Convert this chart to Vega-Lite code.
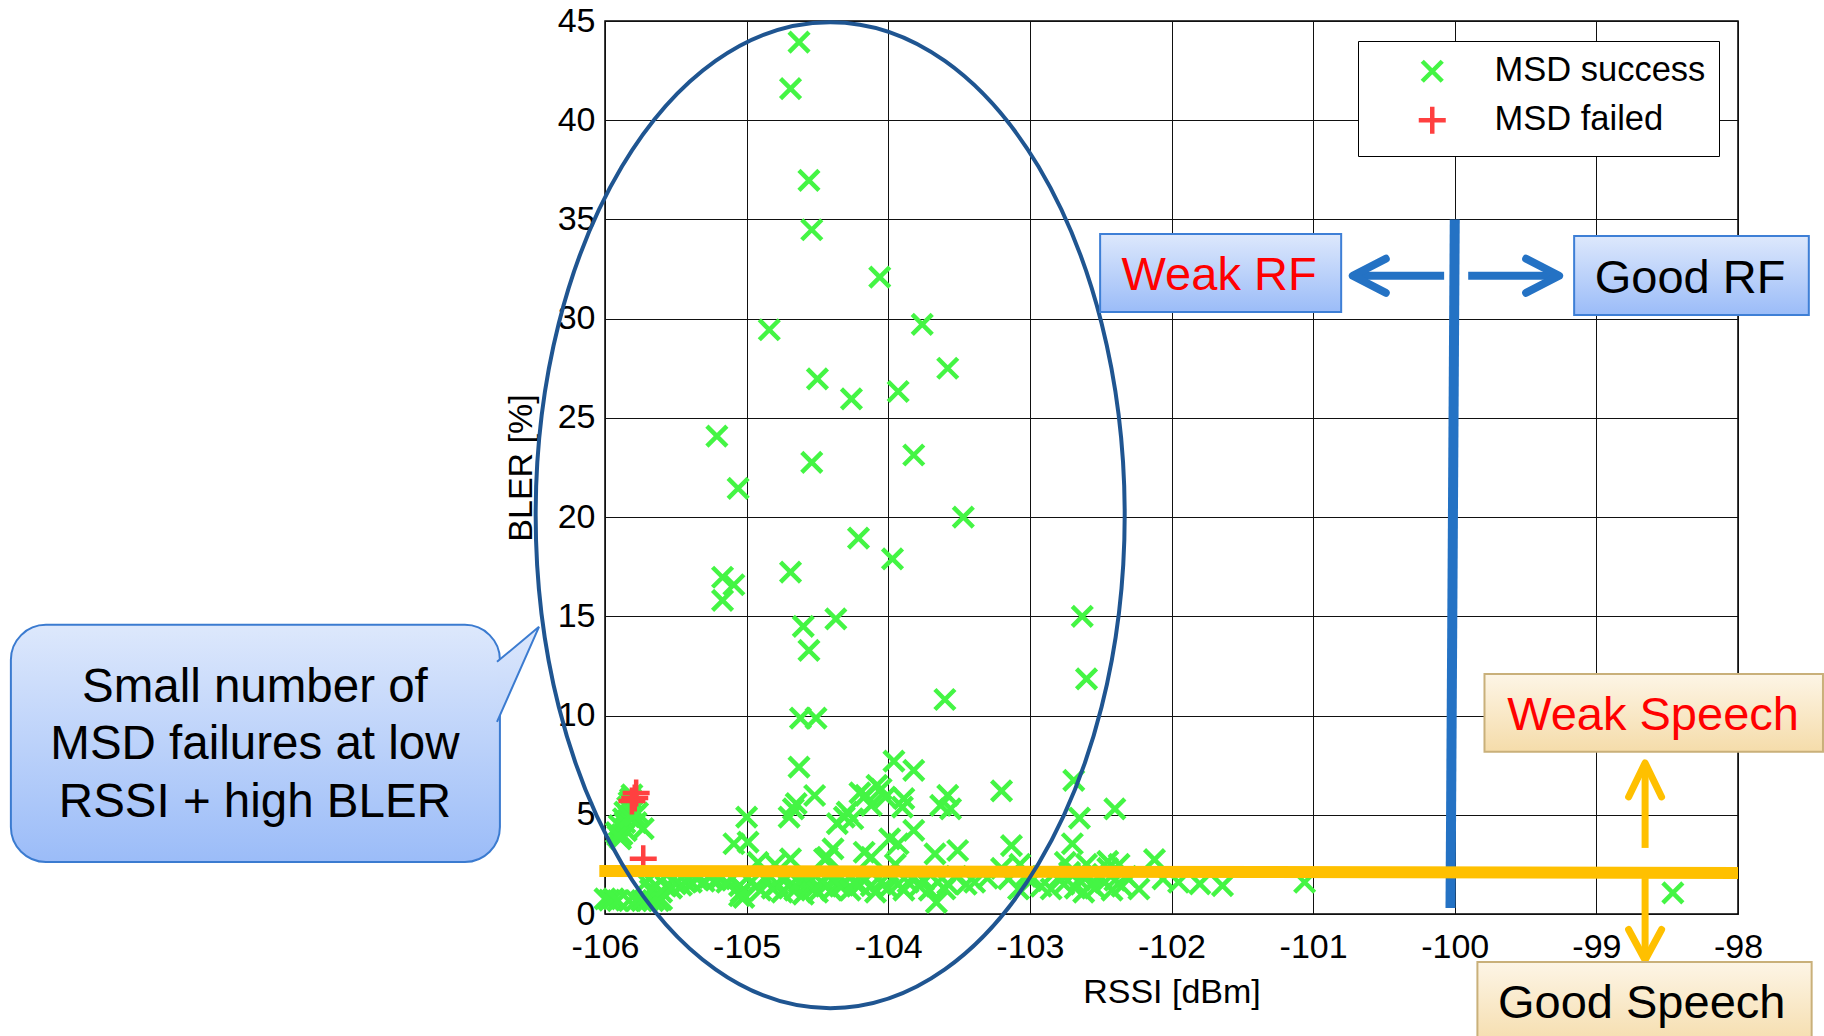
{
"$schema": "https://vega.github.io/schema/vega-lite/v6.json",
"width": 1133, "height": 893,
"autosize": {"type": "none"},
"padding": {"left": 605, "top": 21, "right": 86, "bottom": 122},
"background": "white",
"config": {
  "font": "Liberation Sans",
  "view": {"stroke": "#000", "strokeWidth": 1.5},
  "axis": {"grid": true, "gridColor": "#111", "gridOpacity": 1, "gridWidth": 1, "ticks": false, "domain": false,
    "labelFont": "Liberation Sans", "labelFontSize": 34, "labelColor": "#000", "labelFlush": false, "labelOverlap": false,
    "titleFont": "Liberation Sans", "titleFontSize": 34, "titleFontWeight": "normal", "titleColor": "#000"}
},
"datasets": {
  "pts": [
    {"rssi":-104.63,"bler":43.94,"status":"MSD success"},{"rssi":-104.69,"bler":41.59,"status":"MSD success"},
    {"rssi":-104.56,"bler":36.97,"status":"MSD success"},{"rssi":-104.54,"bler":34.48,"status":"MSD success"},
    {"rssi":-104.06,"bler":32.09,"status":"MSD success"},{"rssi":-104.84,"bler":29.44,"status":"MSD success"},
    {"rssi":-103.76,"bler":29.71,"status":"MSD success"},{"rssi":-103.58,"bler":27.5,"status":"MSD success"},
    {"rssi":-104.5,"bler":26.97,"status":"MSD success"},{"rssi":-104.26,"bler":25.96,"status":"MSD success"},
    {"rssi":-103.93,"bler":26.33,"status":"MSD success"},{"rssi":-105.21,"bler":24.08,"status":"MSD success"},
    {"rssi":-104.54,"bler":22.76,"status":"MSD success"},{"rssi":-103.82,"bler":23.13,"status":"MSD success"},
    {"rssi":-105.06,"bler":21.45,"status":"MSD success"},{"rssi":-103.47,"bler":20.0,"status":"MSD success"},
    {"rssi":-104.21,"bler":18.94,"status":"MSD success"},{"rssi":-103.97,"bler":17.9,"status":"MSD success"},
    {"rssi":-104.69,"bler":17.23,"status":"MSD success"},{"rssi":-105.17,"bler":16.97,"status":"MSD success"},
    {"rssi":-105.09,"bler":16.59,"status":"MSD success"},{"rssi":-105.17,"bler":15.8,"status":"MSD success"},
    {"rssi":-104.37,"bler":14.87,"status":"MSD success"},{"rssi":-104.6,"bler":14.49,"status":"MSD success"},
    {"rssi":-104.56,"bler":13.28,"status":"MSD success"},{"rssi":-103.6,"bler":10.81,"status":"MSD success"},
    {"rssi":-104.62,"bler":9.87,"status":"MSD success"},{"rssi":-104.51,"bler":9.87,"status":"MSD success"},
    {"rssi":-102.63,"bler":15.0,"status":"MSD success"},{"rssi":-102.6,"bler":11.85,"status":"MSD success"},
    {"rssi":-104.63,"bler":7.4,"status":"MSD success"},{"rssi":-103.96,"bler":7.7,"status":"MSD success"},
    {"rssi":-103.82,"bler":7.24,"status":"MSD success"},{"rssi":-104.08,"bler":6.48,"status":"MSD success"},
    {"rssi":-104.05,"bler":6.3,"status":"MSD success"},{"rssi":-104.16,"bler":5.98,"status":"MSD success"},
    {"rssi":-104.12,"bler":5.47,"status":"MSD success"},{"rssi":-103.89,"bler":5.81,"status":"MSD success"},
    {"rssi":-103.9,"bler":5.39,"status":"MSD success"},{"rssi":-104.02,"bler":5.89,"status":"MSD success"},
    {"rssi":-103.58,"bler":5.98,"status":"MSD success"},{"rssi":-103.63,"bler":5.47,"status":"MSD success"},
    {"rssi":-103.56,"bler":5.3,"status":"MSD success"},{"rssi":-103.2,"bler":6.2,"status":"MSD success"},
    {"rssi":-102.69,"bler":6.73,"status":"MSD success"},{"rssi":-102.65,"bler":4.83,"status":"MSD success"},
    {"rssi":-102.4,"bler":5.3,"status":"MSD success"},{"rssi":-104.52,"bler":5.97,"status":"MSD success"},
    {"rssi":-104.65,"bler":5.56,"status":"MSD success"},{"rssi":-104.7,"bler":4.88,"status":"MSD success"},
    {"rssi":-104.67,"bler":5.3,"status":"MSD success"},{"rssi":-105.0,"bler":4.88,"status":"MSD success"},
    {"rssi":-104.31,"bler":4.88,"status":"MSD success"},{"rssi":-104.36,"bler":4.55,"status":"MSD success"},
    {"rssi":-104.29,"bler":5.13,"status":"MSD success"},{"rssi":-104.25,"bler":4.8,"status":"MSD success"},
    {"rssi":-103.82,"bler":4.21,"status":"MSD success"},{"rssi":-103.99,"bler":3.79,"status":"MSD success"},
    {"rssi":-103.93,"bler":3.54,"status":"MSD success"},{"rssi":-104.12,"bler":2.86,"status":"MSD success"},
    {"rssi":-104.17,"bler":3.11,"status":"MSD success"},{"rssi":-103.67,"bler":3.03,"status":"MSD success"},
    {"rssi":-103.51,"bler":3.2,"status":"MSD success"},{"rssi":-103.13,"bler":3.45,"status":"MSD success"},
    {"rssi":-102.7,"bler":3.54,"status":"MSD success"},{"rssi":-105.09,"bler":3.54,"status":"MSD success"},
    {"rssi":-104.99,"bler":3.62,"status":"MSD success"},{"rssi":-104.39,"bler":3.28,"status":"MSD success"},
    {"rssi":-104.43,"bler":2.86,"status":"MSD success"},{"rssi":-104.69,"bler":2.78,"status":"MSD success"},
    {"rssi":-104.92,"bler":2.6,"status":"MSD success"},{"rssi":-104.2,"bler":6.1,"status":"MSD success"},
    {"rssi":-102.12,"bler":2.74,"status":"MSD success"},{"rssi":-104.45,"bler":2.77,"status":"MSD success"},
    {"rssi":-103.07,"bler":2.5,"status":"MSD success"},{"rssi":-102.75,"bler":2.6,"status":"MSD success"},
    {"rssi":-102.6,"bler":2.5,"status":"MSD success"},{"rssi":-102.45,"bler":2.65,"status":"MSD success"},
    {"rssi":-104.8,"bler":2.5,"status":"MSD success"},{"rssi":-103.95,"bler":2.5,"status":"MSD success"},
    {"rssi":-105.92,"bler":4.1,"status":"MSD success"},{"rssi":-105.9,"bler":4.46,"status":"MSD success"},
    {"rssi":-105.87,"bler":4.8,"status":"MSD success"},{"rssi":-105.86,"bler":5.13,"status":"MSD success"},
    {"rssi":-105.84,"bler":5.39,"status":"MSD success"},{"rssi":-105.83,"bler":5.64,"status":"MSD success"},
    {"rssi":-105.82,"bler":5.8,"status":"MSD success"},{"rssi":-105.89,"bler":3.79,"status":"MSD success"},
    {"rssi":-105.8,"bler":5.3,"status":"MSD success"},{"rssi":-105.73,"bler":4.3,"status":"MSD success"},
    {"rssi":-105.78,"bler":4.6,"status":"MSD success"},{"rssi":-105.85,"bler":4.2,"status":"MSD success"},
    {"rssi":-105.88,"bler":4.0,"status":"MSD success"},{"rssi":-105.81,"bler":6.0,"status":"MSD success"},
    {"rssi":-105.77,"bler":5.1,"status":"MSD success"},{"rssi":-105.86,"bler":4.6,"status":"MSD success"},
    {"rssi":-105.83,"bler":4.9,"status":"MSD success"},{"rssi":-105.91,"bler":3.95,"status":"MSD success"},
    {"rssi":-105.79,"bler":4.95,"status":"MSD success"},
    {"rssi":-106.0,"bler":0.76,"status":"MSD success"},{"rssi":-105.97,"bler":0.7,"status":"MSD success"},
    {"rssi":-105.94,"bler":0.76,"status":"MSD success"},{"rssi":-105.91,"bler":0.67,"status":"MSD success"},
    {"rssi":-105.83,"bler":0.67,"status":"MSD success"},{"rssi":-105.78,"bler":0.67,"status":"MSD success"},
    {"rssi":-105.74,"bler":0.67,"status":"MSD success"},{"rssi":-105.7,"bler":0.67,"status":"MSD success"},
    {"rssi":-105.66,"bler":0.67,"status":"MSD success"},{"rssi":-105.62,"bler":0.67,"status":"MSD success"},
    {"rssi":-105.6,"bler":0.72,"status":"MSD success"},
    {"rssi":-105.71,"bler":1.6,"status":"MSD success"},{"rssi":-105.68,"bler":1.2,"status":"MSD success"},
    {"rssi":-105.64,"bler":1.43,"status":"MSD success"},{"rssi":-105.6,"bler":1.1,"status":"MSD success"},
    {"rssi":-105.57,"bler":1.4,"status":"MSD success"},{"rssi":-105.53,"bler":1.3,"status":"MSD success"},
    {"rssi":-105.5,"bler":1.52,"status":"MSD success"},{"rssi":-105.46,"bler":1.45,"status":"MSD success"},
    {"rssi":-105.43,"bler":1.6,"status":"MSD success"},{"rssi":-105.39,"bler":1.6,"status":"MSD success"},
    {"rssi":-105.35,"bler":1.77,"status":"MSD success"},{"rssi":-105.3,"bler":1.65,"status":"MSD success"},
    {"rssi":-105.26,"bler":1.85,"status":"MSD success"},{"rssi":-105.22,"bler":1.7,"status":"MSD success"},
    {"rssi":-105.19,"bler":1.77,"status":"MSD success"},{"rssi":-105.14,"bler":1.6,"status":"MSD success"},
    {"rssi":-105.1,"bler":1.8,"status":"MSD success"},{"rssi":-105.05,"bler":1.43,"status":"MSD success"},
    {"rssi":-105.04,"bler":1.09,"status":"MSD success"},{"rssi":-105.02,"bler":0.84,"status":"MSD success"},
    {"rssi":-104.97,"bler":1.6,"status":"MSD success"},{"rssi":-104.93,"bler":1.4,"status":"MSD success"},
    {"rssi":-104.9,"bler":1.2,"status":"MSD success"},{"rssi":-104.86,"bler":1.7,"status":"MSD success"},
    {"rssi":-104.82,"bler":1.3,"status":"MSD success"},{"rssi":-104.78,"bler":1.5,"status":"MSD success"},
    {"rssi":-104.75,"bler":1.1,"status":"MSD success"},{"rssi":-104.72,"bler":1.8,"status":"MSD success"},
    {"rssi":-104.7,"bler":1.4,"status":"MSD success"},{"rssi":-104.66,"bler":1.2,"status":"MSD success"},
    {"rssi":-104.63,"bler":1.6,"status":"MSD success"},{"rssi":-104.6,"bler":1.0,"status":"MSD success"},
    {"rssi":-104.57,"bler":1.5,"status":"MSD success"},{"rssi":-104.55,"bler":1.8,"status":"MSD success"},
    {"rssi":-104.52,"bler":1.3,"status":"MSD success"},{"rssi":-104.5,"bler":1.1,"status":"MSD success"},
    {"rssi":-104.47,"bler":1.6,"status":"MSD success"},{"rssi":-104.44,"bler":1.4,"status":"MSD success"},
    {"rssi":-104.42,"bler":1.9,"status":"MSD success"},{"rssi":-104.4,"bler":1.2,"status":"MSD success"},
    {"rssi":-104.37,"bler":1.7,"status":"MSD success"},{"rssi":-104.34,"bler":1.4,"status":"MSD success"},
    {"rssi":-104.3,"bler":1.6,"status":"MSD success"},{"rssi":-104.27,"bler":1.2,"status":"MSD success"},
    {"rssi":-104.24,"bler":1.6,"status":"MSD success"},{"rssi":-104.2,"bler":1.45,"status":"MSD success"},
    {"rssi":-104.17,"bler":1.8,"status":"MSD success"},{"rssi":-104.12,"bler":1.43,"status":"MSD success"},
    {"rssi":-104.09,"bler":1.1,"status":"MSD success"},{"rssi":-104.05,"bler":1.6,"status":"MSD success"},
    {"rssi":-104.0,"bler":1.3,"status":"MSD success"},{"rssi":-103.97,"bler":1.8,"status":"MSD success"},
    {"rssi":-103.93,"bler":1.5,"status":"MSD success"},{"rssi":-103.89,"bler":1.2,"status":"MSD success"},
    {"rssi":-103.86,"bler":1.6,"status":"MSD success"},{"rssi":-103.82,"bler":1.85,"status":"MSD success"},
    {"rssi":-103.78,"bler":1.4,"status":"MSD success"},{"rssi":-103.75,"bler":1.7,"status":"MSD success"},
    {"rssi":-103.71,"bler":1.2,"status":"MSD success"},{"rssi":-103.66,"bler":0.59,"status":"MSD success"},
    {"rssi":-103.65,"bler":1.6,"status":"MSD success"},{"rssi":-103.6,"bler":1.26,"status":"MSD success"},
    {"rssi":-103.58,"bler":1.52,"status":"MSD success"},{"rssi":-103.52,"bler":1.9,"status":"MSD success"},
    {"rssi":-103.45,"bler":1.5,"status":"MSD success"},{"rssi":-103.39,"bler":1.6,"status":"MSD success"},
    {"rssi":-103.3,"bler":1.8,"status":"MSD success"},{"rssi":-103.2,"bler":2.3,"status":"MSD success"},
    {"rssi":-103.15,"bler":1.77,"status":"MSD success"},{"rssi":-103.08,"bler":1.26,"status":"MSD success"},
    {"rssi":-103.03,"bler":1.9,"status":"MSD success"},{"rssi":-102.99,"bler":1.68,"status":"MSD success"},
    {"rssi":-102.92,"bler":1.4,"status":"MSD success"},{"rssi":-102.85,"bler":1.26,"status":"MSD success"},
    {"rssi":-102.8,"bler":1.8,"status":"MSD success"},{"rssi":-102.76,"bler":1.5,"status":"MSD success"},
    {"rssi":-102.72,"bler":2.1,"status":"MSD success"},{"rssi":-102.68,"bler":1.3,"status":"MSD success"},
    {"rssi":-102.65,"bler":1.7,"status":"MSD success"},{"rssi":-102.62,"bler":1.1,"status":"MSD success"},
    {"rssi":-102.6,"bler":2.0,"status":"MSD success"},{"rssi":-102.57,"bler":1.5,"status":"MSD success"},
    {"rssi":-102.54,"bler":1.3,"status":"MSD success"},{"rssi":-102.5,"bler":1.8,"status":"MSD success"},
    {"rssi":-102.47,"bler":1.6,"status":"MSD success"},{"rssi":-102.45,"bler":2.3,"status":"MSD success"},
    {"rssi":-102.42,"bler":1.2,"status":"MSD success"},{"rssi":-102.4,"bler":1.7,"status":"MSD success"},
    {"rssi":-102.37,"bler":2.5,"status":"MSD success"},{"rssi":-102.35,"bler":1.4,"status":"MSD success"},
    {"rssi":-102.32,"bler":1.9,"status":"MSD success"},{"rssi":-102.23,"bler":1.26,"status":"MSD success"},
    {"rssi":-102.06,"bler":1.77,"status":"MSD success"},{"rssi":-101.95,"bler":1.6,"status":"MSD success"},
    {"rssi":-101.8,"bler":1.52,"status":"MSD success"},{"rssi":-101.64,"bler":1.43,"status":"MSD success"},
    {"rssi":-101.06,"bler":1.6,"status":"MSD success"},{"rssi":-98.46,"bler":1.06,"status":"MSD success"},
    {"rssi":-105.05,"bler":0.92,"status":"MSD success"},{"rssi":-104.24,"bler":1.6,"status":"MSD success"},
    {"rssi":-105.79,"bler":5.84,"status":"MSD failed"},{"rssi":-105.78,"bler":6.1,"status":"MSD failed"},
    {"rssi":-105.81,"bler":5.7,"status":"MSD failed"},{"rssi":-105.73,"bler":2.78,"status":"MSD failed"}
  ]
},
"layer": [
  {
    "data": {"name": "pts"},
    "mark": {"type": "point", "filled": false, "strokeWidth": 4.5, "opacity": 1, "size": 400},
    "encoding": {
      "x": {"field": "rssi", "type": "quantitative", "scale": {"domain": [-106, -98], "nice": false, "zero": false},
        "axis": {"title": "RSSI [dBm]", "values": [-106,-105,-104,-103,-102,-101,-100,-99,-98], "labelExpr": "toString(datum.value)", "labelPadding": 16, "titlePadding": 11}},
      "y": {"field": "bler", "type": "quantitative", "scale": {"domain": [0, 45], "nice": false, "zero": false},
        "axis": {"title": "BLER [%]", "values": [0,5,10,15,20,25,30,35,40,45], "labelPadding": 10, "titlePadding": 19}},
      "color": {"field": "status", "type": "nominal", "scale": {"domain": ["MSD success", "MSD failed"], "range": ["#44f544", "#ff4040"]},
        "legend": {"title": null, "orient": "none", "legendX": 753, "legendY": 20, "fillColor": "#fff", "strokeColor": "#000", "padding": 13,
          "labelFont": "Liberation Sans", "labelFontSize": 34.5, "labelColor": "#000", "labelLimit": 500, "symbolSize": 400, "symbolOffset": 44, "labelOffset": 45, "rowPadding": 6,
          "symbolStrokeWidth": 4.5, "labelExpr": "datum.label + '\u2009'"}},
      "shape": {"field": "status", "type": "nominal", "scale": {"domain": ["MSD success", "MSD failed"], "range": ["M -1,-1 L 1,1 M -1,1 L 1,-1", "M -1.35,0 L 1.35,0 M 0,-1.35 L 0,1.35"]},
        "legend": {"title": null, "orient": "none", "legendX": 753, "legendY": 20, "fillColor": "#fff", "strokeColor": "#000", "padding": 13,
          "labelFont": "Liberation Sans", "labelFontSize": 34.5, "labelColor": "#000", "labelLimit": 500, "symbolSize": 400, "symbolOffset": 44, "labelOffset": 45, "rowPadding": 6,
          "symbolStrokeWidth": 4.5, "labelExpr": "datum.label + '\u2009'"}}
    }
  },
  {
    "data": {"values": [{"x": -100.0, "y": 35.0, "x2": -100.03, "y2": 0.3}]},
    "mark": {"type": "rule", "color": "#2472c4", "strokeWidth": 10},
    "encoding": {"x": {"field": "x", "type": "quantitative"}, "y": {"field": "y", "type": "quantitative"},
      "x2": {"field": "x2"}, "y2": {"field": "y2"}}
  },
  {
    "data": {"values": [{"x": -106.04, "x2": -98.0, "y": 2.17, "y2": 2.07}]},
    "mark": {"type": "rule", "color": "#ffc000", "strokeWidth": 12, "strokeCap": "butt"},
    "encoding": {"x": {"field": "x", "type": "quantitative"}, "y": {"field": "y", "type": "quantitative"},
      "x2": {"field": "x2"}, "y2": {"field": "y2"}}
  },
  {
    "data": {"values": [{"x": -104.41, "y": 20.1}]},
    "mark": {"type": "point", "filled": false, "opacity": 1, "color": "#1f5591", "strokeWidth": 4, "size": 972196,
      "shape": "M 0,-1 C 0.33,-1 0.5974,-0.5523 0.5974,0 C 0.5974,0.5523 0.33,1 0,1 C -0.33,1 -0.5974,0.5523 -0.5974,0 C -0.5974,-0.5523 -0.33,-1 0,-1 Z"},
    "encoding": {"x": {"field": "x", "type": "quantitative"}, "y": {"field": "y", "type": "quantitative"}}
  },
  {
    "data": {"values": [{"x": -100.075, "x2": -100.70, "y": 32.16}, {"x": -99.905, "x2": -99.28, "y": 32.16}]},
    "mark": {"type": "rule", "color": "#2472c4", "strokeWidth": 8},
    "encoding": {"x": {"field": "x", "type": "quantitative"}, "y": {"field": "y", "type": "quantitative"}, "x2": {"field": "x2"}}
  },
  {
    "data": {"values": [{"x": -100.72, "y": 32.16}]},
    "mark": {"type": "point", "filled": false, "opacity": 1, "color": "#2472c4", "strokeWidth": 8, "strokeCap": "round", "strokeJoin": "round", "size": 1156,
      "shape": "M 1.94,-1 L 0,0 L 1.94,1"},
    "encoding": {"x": {"field": "x", "type": "quantitative"}, "y": {"field": "y", "type": "quantitative"}}
  },
  {
    "data": {"values": [{"x": -99.263, "y": 32.16}]},
    "mark": {"type": "point", "filled": false, "opacity": 1, "color": "#2472c4", "strokeWidth": 8, "strokeCap": "round", "strokeJoin": "round", "size": 1156,
      "shape": "M -1.94,-1 L 0,0 L -1.94,1"},
    "encoding": {"x": {"field": "x", "type": "quantitative"}, "y": {"field": "y", "type": "quantitative"}}
  },
  {
    "data": {"values": [{"x": -98.656, "y": 7.5, "y2": 3.33}, {"x": -98.656, "y": 1.81, "y2": -2.2}]},
    "mark": {"type": "rule", "color": "#ffc000", "strokeWidth": 7},
    "encoding": {"x": {"field": "x", "type": "quantitative"}, "y": {"field": "y", "type": "quantitative"}, "y2": {"field": "y2"}}
  },
  {
    "data": {"values": [{"x": -98.656, "y": 7.61}]},
    "mark": {"type": "point", "filled": false, "opacity": 1, "color": "#ffc000", "strokeWidth": 7, "strokeCap": "round", "strokeJoin": "round", "size": 1089,
      "shape": "M -1,2.06 L 0,0 L 1,2.06"},
    "encoding": {"x": {"field": "x", "type": "quantitative"}, "y": {"field": "y", "type": "quantitative"}}
  },
  {
    "data": {"values": [{"x": -98.656, "y": -2.32}]},
    "mark": {"type": "point", "filled": false, "opacity": 1, "color": "#ffc000", "strokeWidth": 7, "strokeCap": "round", "strokeJoin": "round", "size": 1089,
      "shape": "M -1,-1.85 L 0,0 L 1,-1.85"},
    "encoding": {"x": {"field": "x", "type": "quantitative"}, "y": {"field": "y", "type": "quantitative"}}
  },
  {
    "data": {"values": [{"x": -102.504, "x2": -100.802, "y": 34.27, "y2": 30.34}, {"x": -99.157, "x2": -97.5, "y": 34.17, "y2": 30.19}]},
    "mark": {"type": "rect", "stroke": "#3e7fd6", "strokeWidth": 2,
      "fill": {"gradient": "linear", "x1": 0, "y1": 0, "x2": 0, "y2": 1, "stops": [{"offset": 0, "color": "#dde8fc"}, {"offset": 1, "color": "#9bbcf8"}]}},
    "encoding": {"x": {"field": "x", "type": "quantitative"}, "y": {"field": "y", "type": "quantitative"},
      "x2": {"field": "x2"}, "y2": {"field": "y2"}}
  },
  {
    "data": {"values": [{"x": -99.79, "x2": -97.4, "y": 12.1, "y2": 8.17}, {"x": -99.84, "x2": -97.48, "y": -2.42, "y2": -6.8}]},
    "mark": {"type": "rect", "stroke": "#c9b07a", "strokeWidth": 2,
      "fill": {"gradient": "linear", "x1": 0, "y1": 0, "x2": 0, "y2": 1, "stops": [{"offset": 0, "color": "#fdf5e6"}, {"offset": 1, "color": "#f5dcaa"}]}},
    "encoding": {"x": {"field": "x", "type": "quantitative"}, "y": {"field": "y", "type": "quantitative"},
      "x2": {"field": "x2"}, "y2": {"field": "y2"}}
  },
  {
    "data": {"values": [{"x": -101.664, "y": 31.45, "t": "Weak RF"}, {"x": -98.6, "y": 9.27, "t": "Weak Speech"}]},
    "mark": {"type": "text", "font": "Liberation Sans", "fontSize": 47, "align": "center", "baseline": "alphabetic", "color": "#ff0000"},
    "encoding": {"x": {"field": "x", "type": "quantitative"}, "y": {"field": "y", "type": "quantitative"}, "text": {"field": "t"}}
  },
  {
    "data": {"values": [{"x": -98.338, "y": 31.3, "t": "Good RF"}, {"x": -98.68, "y": -5.24, "t": "Good Speech"}]},
    "mark": {"type": "text", "font": "Liberation Sans", "fontSize": 47, "align": "center", "baseline": "alphabetic", "color": "#000000"},
    "encoding": {"x": {"field": "x", "type": "quantitative"}, "y": {"field": "y", "type": "quantitative"}, "text": {"field": "t"}}
  },
  {
    "data": {"values": [{"x": -110.195, "x2": -106.742, "y": 14.57, "y2": 2.62}]},
    "mark": {"type": "rect", "stroke": "#3b7bd0", "strokeWidth": 2, "cornerRadius": 35,
      "fill": {"gradient": "linear", "x1": 0, "y1": 0, "x2": 0, "y2": 1, "stops": [{"offset": 0, "color": "#dde8fc"}, {"offset": 1, "color": "#9bbcf8"}]}},
    "encoding": {"x": {"field": "x", "type": "quantitative"}, "y": {"field": "y", "type": "quantitative"},
      "x2": {"field": "x2"}, "y2": {"field": "y2"}}
  },
  {
    "data": {"values": [{"x": -106.466, "y": 14.47}]},
    "mark": {"type": "point", "filled": true, "opacity": 1, "size": 4, "stroke": "#3b7bd0", "strokeWidth": 2,
      "fill": {"gradient": "linear", "x1": 0, "y1": 0, "x2": 0, "y2": 1, "stops": [{"offset": 0, "color": "#dce7fc"}, {"offset": 1, "color": "#c2d6fa"}]},
      "shape": "M -42,35 L 0,0 L -42,95"},
    "encoding": {"x": {"field": "x", "type": "quantitative"}, "y": {"field": "y", "type": "quantitative"}}
  },
  {
    "data": {"values": [{"x": -108.472, "y": 10.69, "t": "Small number of\nMSD failures at low\nRSSI + high BLER"}]},
    "mark": {"type": "text", "font": "Liberation Sans", "fontSize": 47.5, "align": "center", "baseline": "alphabetic", "color": "#000000", "lineBreak": "\n", "lineHeight": 57.5},
    "encoding": {"x": {"field": "x", "type": "quantitative"}, "y": {"field": "y", "type": "quantitative"}, "text": {"field": "t"}}
  }
]
}
